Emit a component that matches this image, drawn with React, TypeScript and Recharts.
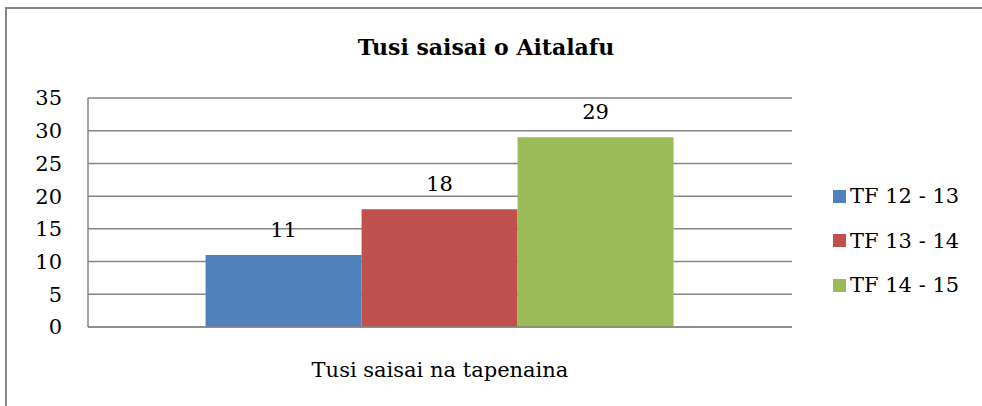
import { BarChart, Bar, XAxis, YAxis, CartesianGrid, LabelList } from 'recharts';

const categories = ['Tusi saisai na tapenaina'];
const seriesNames = ['TF 12 - 13', 'TF 13 - 14', 'TF 14 - 15'];
const seriesValues = [11, 18, 29];
const yTicks = [0, 5, 10, 15, 20, 25, 30, 35];
const chartTitle = 'Tusi saisai o Aitalafu';

const COLORS = ['#4F81BD', '#C0504D', '#9BBB59'];
const GRID = '#868686';
const FONT = 'DejaVu Serif';
const FS = 21;

const data = categories.map((category) => {
  const row: Record<string, string | number> = { category };
  seriesNames.forEach((name, i) => {
    row[name] = seriesValues[i];
  });
  return row;
});

export default function App() {
  return (
    <div
      style={{
        position: 'fixed',
        left: 0,
        top: 0,
        width: 982,
        height: 406,
        overflow: 'hidden',
        background: '#fff',
        fontFamily: FONT,
      }}
    >
      {/* chart frame, runs off the right and bottom edges */}
      <div
        style={{
          position: 'absolute',
          left: 5,
          top: 7,
          width: 977,
          height: 399,
          borderLeft: '2px solid #878787',
          borderTop: '2px solid #878787',
          boxSizing: 'border-box',
        }}
      />
      <div
        style={{
          position: 'absolute',
          left: 0,
          top: 32,
          width: 972,
          textAlign: 'center',
          fontSize: 22,
          fontWeight: 'bold',
          lineHeight: '30px',
          color: '#000',
        }}
      >
        {chartTitle}
      </div>
      <div style={{ position: 'absolute', left: 0, top: 0 }}>
        <BarChart
          width={982}
          height={406}
          data={data}
          margin={{ top: 98, right: 190, bottom: 0, left: 0 }}
          barCategoryGap="16.7%"
          barGap={0}
        >
          <CartesianGrid vertical={false} stroke={GRID} strokeWidth={1.5} />
          <XAxis
            dataKey="category"
            height={79}
            axisLine={{ stroke: GRID, strokeWidth: 1.5 }}
            tickLine={false}
            tickSize={0}
            tickMargin={35}
            tick={{ fill: '#000', fontSize: FS, fontFamily: FONT }}
          />
          <YAxis
            width={88}
            domain={[0, 35]}
            ticks={yTicks}
            interval={0}
            axisLine={{ stroke: GRID, strokeWidth: 1.5 }}
            tickLine={false}
            tickSize={0}
            tickMargin={26}
            tick={{ fill: '#000', fontSize: FS, fontFamily: FONT }}
          />
          {seriesNames.map((name, i) => (
            <Bar key={name} dataKey={name} fill={COLORS[i]} isAnimationActive={false}>
              <LabelList
                dataKey={name}
                position="top"
                offset={18}
                fill="#000"
                fontSize={FS}
                fontFamily={FONT}
              />
            </Bar>
          ))}
        </BarChart>
      </div>
      <div style={{ position: 'absolute', left: 833, top: 174 }}>
        {seriesNames.map((name, i) => (
          <div
            key={name}
            style={{ display: 'flex', alignItems: 'center', height: 44.5, fontSize: FS, color: '#000' }}
          >
            <span
              style={{ width: 13, height: 13, background: COLORS[i], marginRight: 4, display: 'inline-block' }}
            />
            <span>{name}</span>
          </div>
        ))}
      </div>
    </div>
  );
}
